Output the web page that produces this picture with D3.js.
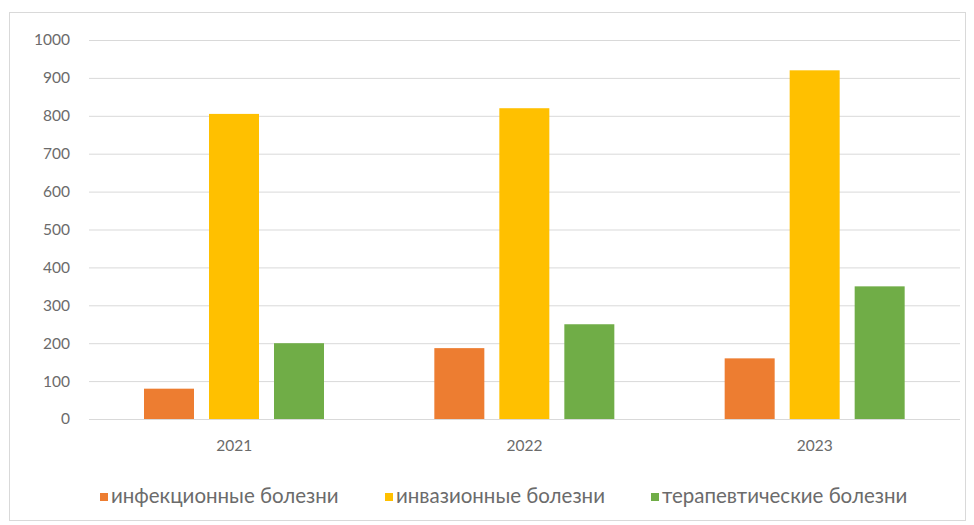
<!DOCTYPE html>
<html><head><meta charset="utf-8">
<script src="https://cdn.jsdelivr.net/npm/d3@7"></script>
<style>body{margin:0;background:#fff}svg{display:block}</style>
</head><body>
<svg id="c" width="974" height="525"></svg>
<script>
const categories = ["2021", "2022", "2023"];
const seriesNames = ["инфекционные болезни", "инвазионные болезни", "терапевтические болезни"];
const infectious = [80, 187, 160];
const invasive = [805, 820, 920];
const therapeutic = [200, 250, 350];
const yTicks = [0, 100, 200, 300, 400, 500, 600, 700, 800, 900, 1000];
const colors = ["#ED7D31", "#FFC000", "#70AD47"];

(function () {
const seriesValues = [infectious, invasive, therapeutic];
const svg = d3.select("#c");
const font = "Lato, 'Open Sans', sans-serif";
const textColor = "#6b6b6b";

svg.append("rect").attr("x", 9.5).attr("y", 12.5).attr("width", 956).attr("height", 508)
  .attr("fill", "#fff").attr("stroke", "#d9d9d9");

const pl = 89, pr = 960, pt = 40, pb = 419;
const y = d3.scaleLinear().domain([0, 1000]).range([pb, pt]);
const x0 = d3.scaleBand().domain(categories).range([pl, pr]).padding(0);
const x1 = d3.scaleBand().domain(seriesNames).range([55, 235]).paddingInner(15 / 65).paddingOuter(0);

const yAxis = d3.axisLeft(y).tickValues(yTicks).tickFormat(d3.format("d")).tickSize(-(pr - pl)).tickPadding(19);
const gy = svg.append("g").attr("transform", `translate(${pl},0)`).call(yAxis);
gy.select(".domain").remove();
gy.selectAll(".tick line").attr("stroke", "#d9d9d9").attr("stroke-width", 1);
gy.selectAll(".tick text").attr("fill", textColor).attr("font-family", font).attr("font-size", 15.5);

const xAxis = d3.axisBottom(x0).tickSize(0).tickPadding(21);
const gx = svg.append("g").attr("transform", `translate(0,${pb})`).call(xAxis);
gx.select(".domain").remove();
gx.selectAll(".tick text").attr("fill", textColor).attr("font-family", font).attr("font-size", 15.5);

const groups = svg.append("g").selectAll("g").data(categories).join("g")
  .attr("transform", d => `translate(${x0(d)},0)`);
groups.selectAll("rect")
  .data((d, i) => seriesNames.map((s, j) => ({ s, j, v: seriesValues[j][i] })))
  .join("rect")
  .attr("x", d => x1(d.s)).attr("width", x1.bandwidth())
  .attr("y", d => y(d.v)).attr("height", d => y(0) - y(d.v))
  .attr("fill", d => colors[d.j]);

const legendX = [100, 385, 651];
const lg = svg.append("g").selectAll("g").data(seriesNames).join("g")
  .attr("transform", (d, i) => `translate(${legendX[i]},493)`);
lg.append("rect").attr("x", 0).attr("y", 0).attr("width", 8).attr("height", 8)
  .attr("fill", (d, i) => colors[i]);
lg.append("text").attr("x", 11).attr("y", 9.5).text(d => d)
  .attr("fill", textColor).attr("font-family", font).attr("font-size", 20.5);
})();
</script>
</body></html>
